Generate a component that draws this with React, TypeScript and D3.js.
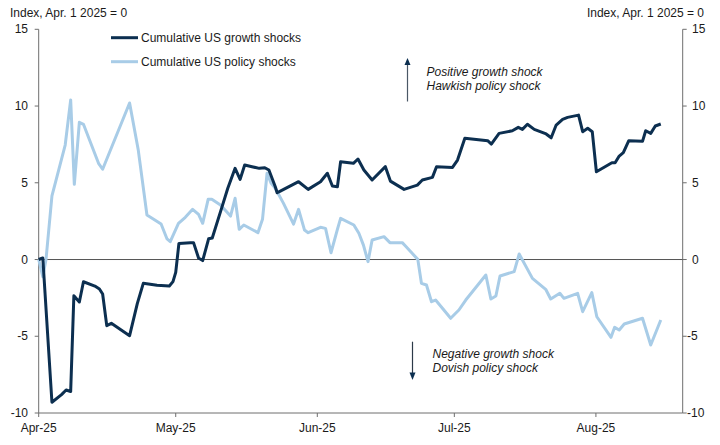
import React from 'react';
import * as d3 from 'd3';

// days after Apr. 1 2025
const growthDays = [0, 0.9, 2.9, 5, 6, 7, 7.7, 8.9, 9.8, 12.3, 13.3, 14, 14.9, 15.9, 19.9, 21.6, 22.9, 25.9, 28.6, 29.4, 30, 30.7, 33.2, 33.9, 35, 35.9, 37.2, 38, 40.1, 41.4, 43, 44.1, 45.1, 46.7, 48.3, 49.5, 50.4, 51.8, 52.2, 52.9, 56.9, 59, 61.7, 63.2, 64.3, 65.4, 66.1, 68.9, 69.9, 71.2, 73, 75.9, 77, 80, 82.9, 84, 86.2, 87.1, 90.6, 91.7, 93.3, 98.3, 99.1, 100.8, 103.7, 105, 105.9, 107, 108.5, 111.1, 112.2, 113.3, 114.7, 115.8, 118.2, 119.1, 120.2, 121.2, 122.1, 125.5, 126.2, 127.1, 128, 129.2, 132.2, 132.9, 134, 135, 136.2];
const growthValues = [0, 0.1, -9.3, -8.8, -8.5, -8.6, -2.36, -2.77, -1.45, -1.73, -1.92, -2.25, -4.31, -4.16, -4.96, -2.86, -1.55, -1.68, -1.73, -1.44, -0.84, 1.05, 1.1, 1.1, 0.1, -0.07, 1.35, 1.4, 3.4, 4.64, 5.94, 5.22, 6.16, 6.05, 5.94, 5.98, 5.83, 4.74, 4.35, 4.46, 5.07, 4.57, 5.07, 5.62, 4.79, 4.74, 6.37, 6.27, 6.55, 5.83, 5.18, 6.05, 5.11, 4.57, 4.85, 5.18, 5.35, 6.05, 6.0, 6.48, 7.9, 7.74, 7.52, 8.22, 8.39, 8.61, 8.48, 8.81, 8.48, 8.18, 7.93, 8.76, 9.13, 9.26, 9.41, 8.33, 8.55, 8.33, 5.72, 6.31, 6.31, 6.74, 6.96, 7.74, 7.7, 8.39, 8.22, 8.7, 8.83];

const policyDays = [0, 0.9, 1.6, 2.9, 5.8, 7, 7.8, 8.9, 9.8, 13.1, 14, 19.9, 21.8, 23.7, 26.8, 28.1, 28.8, 30.6, 32.1, 33.7, 35, 35.9, 37.1, 37.9, 39.8, 42, 43, 43.9, 44.9, 48, 49, 50, 50.9, 51.8, 53.6, 55.8, 56.9, 58.2, 59, 61.7, 62.8, 64, 65.4, 66.1, 69, 70.1, 71.1, 72.1, 73, 75.6, 76.9, 79.6, 80.3, 83, 83.8, 84.9, 86, 86.9, 90.2, 92, 93.5, 97.9, 99, 100.1, 101, 104.1, 105.2, 108.1, 111, 112.1, 114.1, 115, 118, 119.1, 121.1, 122.2, 125.3, 126.1, 127.1, 128.2, 132.2, 134, 136.2];
const policyValues = [0, -1.12, 0, 4.14, 7.46, 10.4, 4.9, 8.94, 8.81, 6.27, 5.88, 10.2, 7.13, 2.9, 2.31, 1.34, 1.16, 2.36, 2.75, 3.27, 2.94, 2.36, 3.92, 3.92, 3.55, 2.83, 3.99, 1.97, 2.25, 1.75, 2.62, 5.62, 4.96, 4.64, 3.66, 2.31, 3.27, 1.92, 1.75, 2.1, 2.03, 0.44, 1.97, 2.68, 2.25, 1.71, 0.94, -0.14, 1.27, 1.49, 1.1, 1.1, 0.88, 0.01, -1.55, -1.66, -2.75, -2.64, -3.83, -3.29, -2.64, -1.01, -2.57, -2.38, -1.07, -0.79, 0.36, -1.23, -1.94, -2.57, -2.2, -2.53, -2.2, -3.4, -2.16, -3.73, -5.07, -4.42, -4.59, -4.2, -3.83, -5.57, -3.94];

const yTicks = [15, 10, 5, 0, -5, -10];
const monthTicks = ['2025-04-01', '2025-05-01', '2025-06-01', '2025-07-01', '2025-08-01'];
const seriesNames = ['Cumulative US growth shocks', 'Cumulative US policy shocks'];
const axisTitle = 'Index, Apr. 1 2025 = 0';

const W = 720, H = 445;
const start = new Date(Date.UTC(2025, 3, 1));
const toDate = (d: number) => new Date(start.getTime() + d * 864e5);

const dark = '#0c2f50';
const light = '#a8cce7';
const axisColor = '#6e6e6e';
const font = '"Liberation Sans", Arial, sans-serif';

const App: React.FC = () => {
    const x = d3.scaleUtc()
        .domain([start, new Date(Date.UTC(2025, 7, 20))])
        .range([38.7, 682.7]);
    const y = d3.scaleLinear().domain([-10, 15]).range([413, 29.3]);

    const line = d3.line<[number, number]>()
        .x(d => x(toDate(d[0])))
        .y(d => y(d[1]));

    const growth = growthDays.map((d, i) => [d, growthValues[i]] as [number, number]);
    const policy = policyDays.map((d, i) => [d, policyValues[i]] as [number, number]);

    const x0 = x.range()[0], x1 = x.range()[1];
    const yb = y(-10);

    return (
        <svg width={W} height={H} style={{ position: 'absolute', left: 0, top: 0 }}
            fontFamily={font} fontSize={12} fill="#1a1a1a">
            <rect width={W} height={H} fill="#fff" />

            {/* axis titles */}
            <text x={10} y={17}>{axisTitle}</text>
            <text x={704} y={17} textAnchor="end">{axisTitle}</text>

            {/* left axis */}
            <line x1={x0} x2={x0} y1={y(15)} y2={yb} stroke={axisColor} />
            {yTicks.map(t => (
                <g key={'l' + t}>
                    <line x1={x0 - 4} x2={x0} y1={y(t)} y2={y(t)} stroke={axisColor} />
                    <text x={28} y={y(t) + 4} textAnchor="end">{t}</text>
                </g>
            ))}

            {/* right axis */}
            <line x1={x1} x2={x1} y1={y(15)} y2={yb} stroke={axisColor} />
            {yTicks.map(t => (
                <g key={'r' + t}>
                    <line x1={x1} x2={x1 + 4} y1={y(t)} y2={y(t)} stroke={axisColor} />
                    <text x={t < 0 ? 687 : 692} y={y(t) + 4}>{t}</text>
                </g>
            ))}

            {/* bottom axis */}
            <line x1={x0} x2={x1} y1={yb} y2={yb} stroke={axisColor} />
            {monthTicks.map(m => {
                const d = new Date(m + 'T00:00:00Z');
                return (
                    <g key={m}>
                        <line x1={x(d)} x2={x(d)} y1={yb} y2={yb + 4} stroke={axisColor} />
                        <text x={x(d)} y={432} textAnchor="middle">{d3.utcFormat('%b-%y')(d)}</text>
                    </g>
                );
            })}

            {/* zero line */}
            <line x1={x0} x2={x1} y1={y(0)} y2={y(0)} stroke="#555" />

            <path d={line(policy)!} fill="none" stroke={light} strokeWidth={3} strokeLinejoin="round" />
            <path d={line(growth)!} fill="none" stroke={dark} strokeWidth={3} strokeLinejoin="round" />

            {/* legend */}
            <line x1={111} x2={138} y1={37.7} y2={37.7} stroke={dark} strokeWidth={3} />
            <text x={141} y={42}>{seriesNames[0]}</text>
            <line x1={111} x2={138} y1={61.7} y2={61.7} stroke={light} strokeWidth={3} />
            <text x={141} y={66}>{seriesNames[1]}</text>

            {/* annotations */}
            <line x1={407.5} x2={407.5} y1={101.5} y2={64} stroke="#4a5866" strokeWidth={1.2} />
            <path d="M407.5,58 L404.5,65 L410.5,65 Z" fill={dark} />
            <text x={426.5} y={76} fontStyle="italic">
                <tspan x={426.5}>Positive growth shock</tspan>
                <tspan x={426.5} dy={14}>Hawkish policy shock</tspan>
            </text>
            <line x1={412.5} x2={412.5} y1={341.7} y2={373} stroke="#2c3a48" strokeWidth={1.2} />
            <path d="M412.5,380 L409.5,372.5 L415.5,372.5 Z" fill={dark} />
            <text x={432.5} y={358} fontStyle="italic">
                <tspan x={432.5}>Negative growth shock</tspan>
                <tspan x={432.5} dy={14}>Dovish policy shock</tspan>
            </text>
        </svg>
    );
};

export default App;
